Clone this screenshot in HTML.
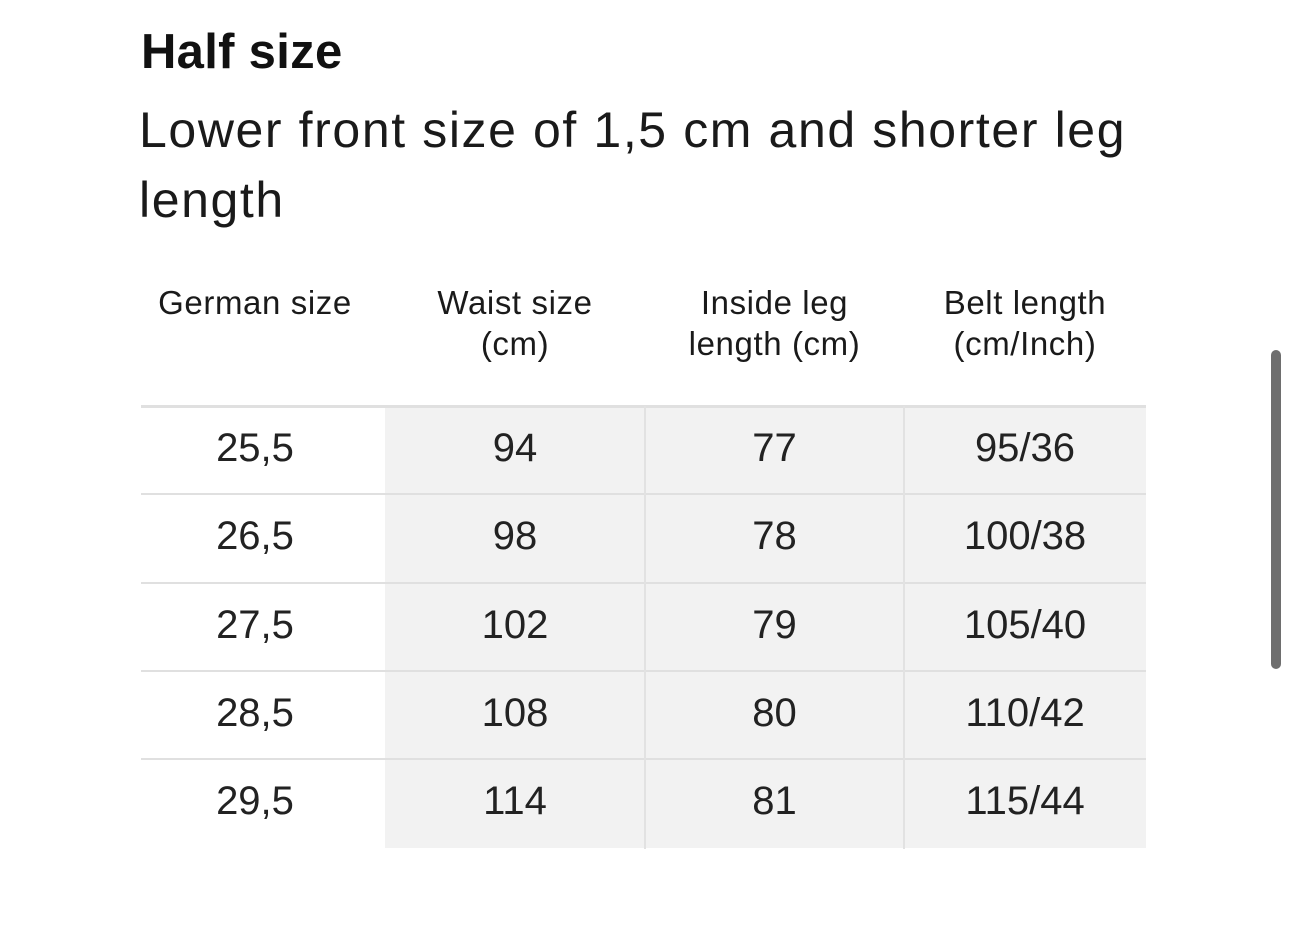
<!DOCTYPE html>
<html><head><style>
body{margin:0;width:1290px;height:945px;background:#fff;font-family:"Liberation Sans",sans-serif;color:#111;position:relative;overflow:hidden}
.a{position:absolute;white-space:nowrap}
.t{left:141px;top:22px;font-size:49px;font-weight:bold;line-height:60px;letter-spacing:0.3px}
.s{left:139px;top:95px;font-size:50px;line-height:70px;color:#1a1a1a;letter-spacing:1.6px}
.h{font-size:33px;line-height:41px;text-align:center;color:#1a1a1a;letter-spacing:0.6px}
.c{font-size:40px;text-align:center;line-height:88px;color:#222}
.bg{position:absolute;background:#f2f2f2}
.hl{position:absolute;left:141px;width:1005px;height:2px;background:#e0e0e0}
.vl{position:absolute;top:406px;height:443px;width:2px;background:#e2e2e2}
</style></head><body>
<div class="a t">Half size</div>
<div class="a s">Lower front size of 1,5 cm and shorter leg<br>length</div>
<div class="a h" style="left:141px;width:228px;top:282px">German size</div>
<div class="a h" style="left:385px;width:260px;top:282px">Waist size<br>(cm)</div>
<div class="a h" style="left:645px;width:259px;top:282px">Inside leg<br>length (cm)</div>
<div class="a h" style="left:904px;width:242px;top:282px">Belt length<br>(cm/Inch)</div>
<div class="bg" style="left:385px;top:406px;width:761px;height:442px"></div>
<div class="hl" style="top:405px;height:3px"></div>
<div class="hl" style="top:493px"></div>
<div class="hl" style="top:582px"></div>
<div class="hl" style="top:670px"></div>
<div class="hl" style="top:758px"></div>
<div class="vl" style="left:644px"></div>
<div class="vl" style="left:903px"></div>
<div id="rows"></div>
<div class="a" style="left:1271px;top:350px;width:10px;height:319px;border-radius:5px;background:#6e6e6e"></div>
<script>
var d=[["25,5","94","77","95/36"],["26,5","98","78","100/38"],["27,5","102","79","105/40"],["28,5","108","80","110/42"],["29,5","114","81","115/44"]];
var xs=[[141,228],[385,260],[645,259],[904,242]],h="";
d.forEach(function(r,i){r.forEach(function(v,j){h+='<div class="a c" style="left:'+xs[j][0]+'px;width:'+xs[j][1]+'px;top:'+(404+i*88.3)+'px">'+v+'</div>';});});
document.getElementById("rows").innerHTML=h;
</script>
</body></html>
